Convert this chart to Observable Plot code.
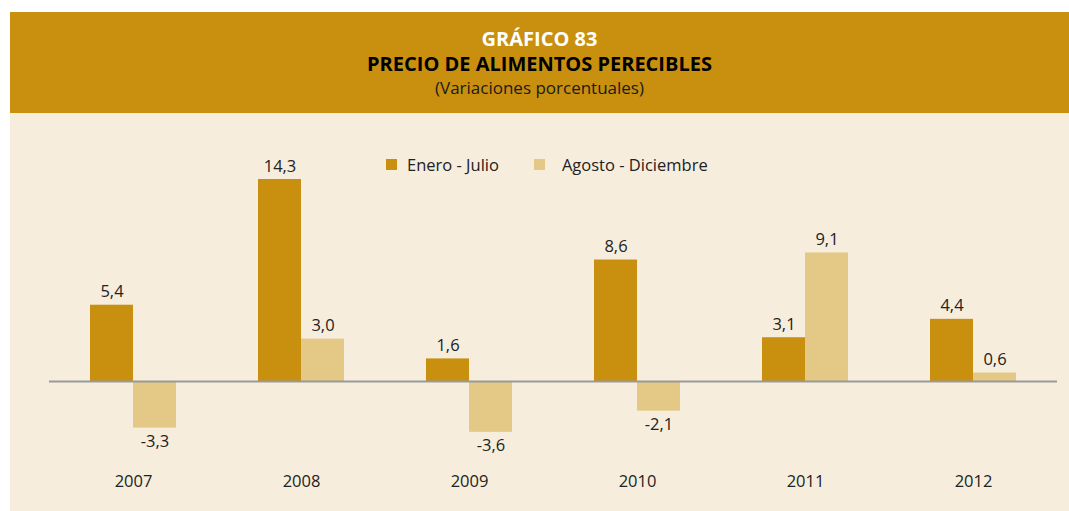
<!DOCTYPE html>
<html>
<head>
<meta charset="utf-8">
<script src="https://cdn.jsdelivr.net/npm/d3@7"></script>
<script src="https://cdn.jsdelivr.net/npm/@observablehq/plot@0.6"></script>
<style>
  body { margin: 0; background: #ffffff; font-family: "Open Sans", "Noto Sans", sans-serif; }
  #wrap { position: relative; width: 1069px; height: 511px; }
  #header { position: absolute; left: 10px; top: 12px; width: 1059px; height: 101px; background: #C8900E; text-align: center; }
  #t1 { position: absolute; left: 0; right: 0; top: 15px; color: #ffffff; font-weight: 700; font-size: 20px; line-height: 24px; }
  #t2 { position: absolute; left: 0; right: 0; top: 40px; color: #000000; font-weight: 700; font-size: 20px; line-height: 24px; }
  #t3 { position: absolute; left: 0; right: 0; top: 65px; color: #1a1a1a; font-size: 17px; line-height: 22px; }
  #chart { position: absolute; left: 10px; top: 113px; width: 1059px; height: 398px; background: #F6EDDD; }
  #legend { position: absolute; left: 386px; top: 153px; font-size: 16.5px; color: #222; display: flex; align-items: center; }
  .sw { display: inline-block; width: 11px; height: 11px; margin-right: 10px; }
  .item { display: flex; align-items: center; }
</style>
</head>
<body>
<div id="wrap">
  <div id="header">
    <div id="t1">GRÁFICO 83</div>
    <div id="t2">PRECIO DE ALIMENTOS PERECIBLES</div>
    <div id="t3">(Variaciones porcentuales)</div>
  </div>
  <div id="chart"></div>
  <div id="legend"></div>
</div>
<script>
const years = ["2007", "2008", "2009", "2010", "2011", "2012"];
const seriesNames = ["Enero - Julio", "Agosto - Diciembre"];
const eneroJulio = [5.4, 14.3, 1.6, 8.6, 3.1, 4.4];
const agostoDiciembre = [-3.3, 3.0, -3.6, -2.1, 9.1, 0.6];
const seriesColors = ["#C8900E", "#E4C886"];

const data = [];
years.forEach((y, i) => {
  data.push({year: y, serie: seriesNames[0], value: eneroJulio[i]});
  data.push({year: y, serie: seriesNames[1], value: agostoDiciembre[i]});
});
const fmt = v => v.toFixed(1).replace(".", ",");
const font = '"Open Sans", "Noto Sans", sans-serif';
const fs = 16.5;

const plot = Plot.plot({
  width: 1059,
  height: 398,
  marginLeft: 37,
  marginRight: 10,
  marginTop: 42,
  marginBottom: 17,
  style: {background: "transparent", fontFamily: font, fontSize: "16.5px", color: "#222"},
  fx: {domain: years, padding: 0, axis: null},
  x: {domain: seriesNames, paddingInner: 0, paddingOuter: 0.91, axis: null},
  y: {domain: [-8, 16], axis: null},
  color: {domain: seriesNames, range: seriesColors},
  marks: [
    Plot.barY(data, {fx: "year", x: "serie", y: "value", fill: "serie", inset: 0}),
    Plot.ruleY([0], {stroke: "#999999", strokeWidth: 2}),
    Plot.text(data.filter(d => d.value >= 0), {fx: "year", x: "serie", y: "value", text: d => fmt(d.value), lineAnchor: "bottom", dy: -8, fill: "#222", fontSize: fs}),
    Plot.text(data.filter(d => d.value < 0), {fx: "year", x: "serie", y: "value", text: d => fmt(d.value), lineAnchor: "top", dy: 7, fill: "#222", fontSize: fs}),
    Plot.text(years, {fx: d => d, text: d => d, frameAnchor: "bottom", dy: -8, fill: "#222", fontSize: fs})
  ]
});
document.getElementById("chart").appendChild(plot);

const legend = document.getElementById("legend");
seriesNames.forEach((s, i) => {
  const item = document.createElement("div");
  item.className = "item";
  if (i > 0) item.style.marginLeft = "35px";
  const sw = document.createElement("span");
  sw.className = "sw";
  sw.style.background = seriesColors[i];
  if (i > 0) sw.style.marginRight = "17px";
  const t = document.createElement("span");
  t.textContent = s;
  item.appendChild(sw);
  item.appendChild(t);
  legend.appendChild(item);
});
</script>
</body>
</html>
